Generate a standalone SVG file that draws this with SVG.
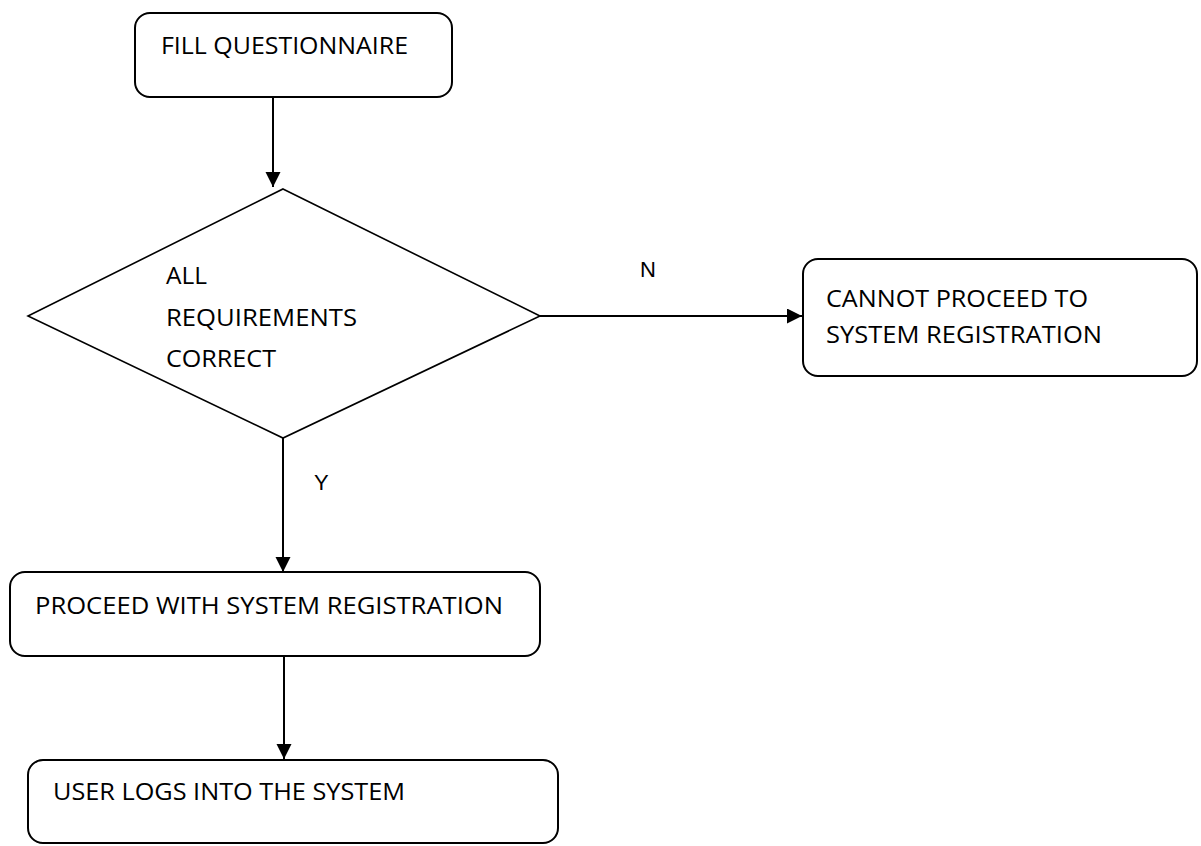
<svg xmlns="http://www.w3.org/2000/svg" width="1201" height="846" viewBox="0 0 1201 846">
<style>
.box{fill:#fff;stroke:#000;stroke-width:2}
.dia{fill:#fff;stroke:#000;stroke-width:1.6}
.t{font-family:"Open Sans","Liberation Sans",sans-serif;font-size:24px;fill:#000}
.lbl{font-family:"Liberation Sans",Arial,sans-serif;font-size:22px;fill:#000}
.c{stroke:#000;stroke-width:2;fill:none;marker-end:url(#ah)}
</style>
<defs>
<marker id="ah" markerUnits="userSpaceOnUse" markerWidth="16" markerHeight="16" viewBox="0 0 16 16" refX="15" refY="7.5" orient="auto">
<path d="M0,0 L15,7.5 L0,15 z" fill="#000"/>
</marker>
</defs>
<rect width="1201" height="846" fill="#fff"/>
<g id="connectors">
<line class="c" x1="273" y1="97" x2="273" y2="187"/>
<line class="c" x1="540" y1="316" x2="802" y2="316"/>
<line class="c" x1="283" y1="438" x2="283" y2="572"/>
<line class="c" x1="284" y1="656" x2="284" y2="759"/>
<text class="lbl" x="640" y="277">N</text>
<text class="lbl" x="314" y="490">Y</text>
</g>
<g id="fill-questionnaire">
<rect class="box" x="135" y="13" width="317" height="84" rx="15"/>
<text class="t" x="161" y="54" textLength="247" lengthAdjust="spacingAndGlyphs">FILL QUESTIONNAIRE</text>
</g>
<g id="decision">
<polygon class="dia" points="283,189 540,316 283,438 28,316"/>
<text class="t" x="166" y="284" textLength="41" lengthAdjust="spacingAndGlyphs">ALL</text>
<text class="t" x="166" y="326" textLength="191" lengthAdjust="spacingAndGlyphs">REQUIREMENTS</text>
<text class="t" x="166" y="367" textLength="110" lengthAdjust="spacingAndGlyphs">CORRECT</text>
</g>
<g id="cannot-proceed">
<rect class="box" x="803" y="259" width="394" height="117" rx="15"/>
<text class="t" x="826" y="307" textLength="262" lengthAdjust="spacingAndGlyphs">CANNOT PROCEED TO</text>
<text class="t" x="826" y="343" textLength="276" lengthAdjust="spacingAndGlyphs">SYSTEM REGISTRATION</text>
</g>
<g id="proceed">
<rect class="box" x="10" y="572" width="530" height="84" rx="15"/>
<text class="t" x="35" y="614" textLength="468" lengthAdjust="spacingAndGlyphs">PROCEED WITH SYSTEM REGISTRATION</text>
</g>
<g id="user-logs">
<rect class="box" x="28" y="760" width="530" height="83" rx="15"/>
<text class="t" x="53" y="800" textLength="352" lengthAdjust="spacingAndGlyphs">USER LOGS INTO THE SYSTEM</text>
</g>
</svg>
